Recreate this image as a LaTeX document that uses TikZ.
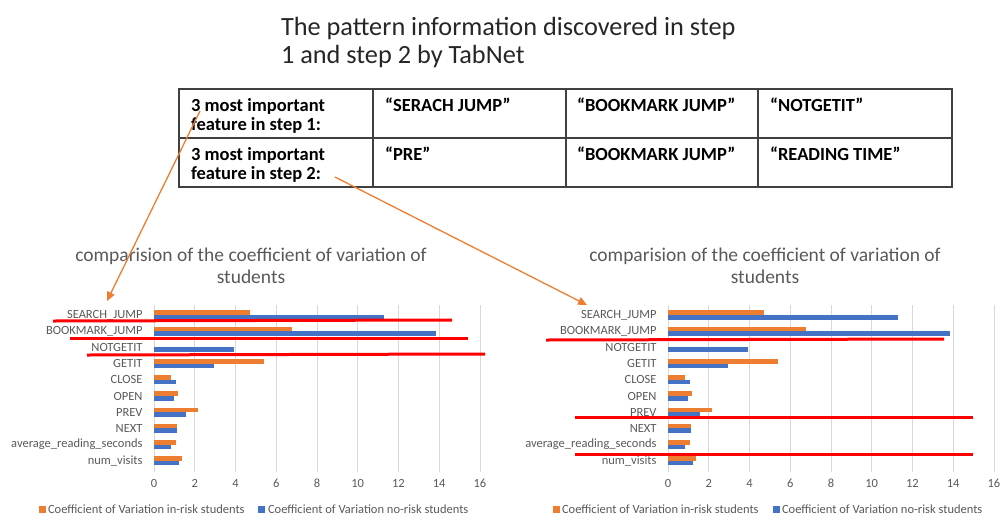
\documentclass[tikz,border=0pt]{standalone}
\usepackage{fontspec}
\setmainfont{Carlito}
\usetikzlibrary{arrows.meta}
\definecolor{cvorange}{HTML}{ED7D31}
\definecolor{cvblue}{HTML}{4472C4}
\definecolor{gridgray}{HTML}{D9D9D9}
\definecolor{txtgray}{HTML}{595959}
\definecolor{tabline}{HTML}{404040}
\definecolor{markred}{HTML}{FF0000}
\newcommand{\cvunit}{20.37}
\newcommand{\cvchart}[3]{%
  \begin{scope}[name prefix=#2-]
    \node[charttitle] (title1) at (#3,261) {comparision of the coefficient of variation of};
    \node[charttitle] (title2) at (#3,283) {students};
    \foreach \tk in {0,2,...,16} {
      \draw[gridline] ({#1+\tk*\cvunit},305) -- ({#1+\tk*\cvunit},472);
      \node[ticklabel] (tick\tk) at ({#1+\tk*\cvunit},483) {\tk};
    }
    \foreach \nm/\ov/\bv [count=\i from 0] in {SEARCH\_JUMP/4.72/11.3, BOOKMARK\_JUMP/6.75/13.85, NOTGETIT/0/3.95, GETIT/5.4/2.95, CLOSE/0.85/1.1, OPEN/1.2/1.0, PREV/2.15/1.55, NEXT/1.15/1.15, average\_reading\_seconds/1.08/0.82, num\_visits/1.38/1.22} {
      \pgfmathsetmacro\cy{315+16.2*\i}
      \node[catlabel] (cat\i) at (#1-11.5,\cy) {\nm};
      \fill[inriskbar] (#1,\cy-4.6) rectangle ({#1+\ov*\cvunit},\cy);
      \fill[noriskbar] (#1,\cy) rectangle ({#1+\bv*\cvunit},\cy+4.6);
    }
  \end{scope}}
\begin{document}
\begin{tikzpicture}[x=1pt,y=-1pt,
  every node/.style={inner sep=0pt, outer sep=0pt},
  titletext/.style={anchor=base west, font=\fontsize{26.3}{30}\selectfont, text=black!85},
  celltext/.style={anchor=base west, font=\bfseries\fontsize{18.5}{19}\selectfont},
  tabrule/.style={draw=tabline, line width=1.6pt},
  charttitle/.style={font=\fontsize{19.5}{22}\selectfont, text=txtgray, anchor=base},
  catlabel/.style={font=\fontsize{12.5}{14}\selectfont, text=txtgray, anchor=east},
  ticklabel/.style={font=\fontsize{12.5}{14}\selectfont, text=txtgray, anchor=center},
  legendtext/.style={font=\fontsize{12.5}{14}\selectfont, text=txtgray, anchor=west},
  gridline/.style={draw=gridgray, line width=0.8pt},
  inriskbar/.style={fill=cvorange},
  noriskbar/.style={fill=cvblue},
  pointer/.style={draw=cvorange, line width=1.3pt, -{Triangle[length=9pt,width=8pt]}},
  redmark/.style={draw=markred, line width=3pt},
]
\useasboundingbox (0,0) rectangle (1000,517);
\clip (0,0) rectangle (1000,517);

% heading
\node[titletext] (head1) at (281,35) {The pattern information discovered in step};
\node[titletext] (head2) at (281,63) {1 and step 2 by TabNet};

% table
\draw[tabrule] (179,89) rectangle (952,187);
\draw[tabrule] (179,138) -- (952,138);
\foreach \cx in {373,566,758} { \draw[tabrule] (\cx,89) -- (\cx,187); }
\node[celltext] (r1c1a) at (191,111) {3 most important};
\node[celltext] (r1c1b) at (191,130) {feature in step 1:};
\node[celltext] (r1c2) at (385,111) {“SERACH JUMP”};
\node[celltext] (r1c3) at (577,111) {“BOOKMARK JUMP”};
\node[celltext] (r1c4) at (770,111) {“NOTGETIT”};
\node[celltext] (r2c1a) at (191,160) {3 most important};
\node[celltext] (r2c1b) at (191,179) {feature in step 2:};
\node[celltext] (r2c2) at (385,160) {“PRE”};
\node[celltext] (r2c3) at (577,160) {“BOOKMARK JUMP”};
\node[celltext] (r2c4) at (770,160) {“READING TIME”};

% charts
\cvchart{154}{L}{251}
\cvchart{668}{R}{765}

% legends
\fill[cvorange] (39,506) rectangle (46,513);
\node[legendtext] (Lleg1) at (48,509.5) {Coefficient of Variation in-risk students};
\fill[cvblue] (258,506) rectangle (265,513);
\node[legendtext] (Lleg2) at (268,509.5) {Coefficient of Variation no-risk students};
\fill[cvorange] (553,506) rectangle (560,513);
\node[legendtext] (Rleg1) at (562,509.5) {Coefficient of Variation in-risk students};
\fill[cvblue] (773,506) rectangle (780,513);
\node[legendtext] (Rleg2) at (782,509.5) {Coefficient of Variation no-risk students};

% red highlight lines
\draw[redmark] (53,321) -- (452,320);
\draw[redmark] (70,338) -- (468,338);
\draw[redmark] (87,355) -- (485,354);
\draw[redmark] (546,340) -- (944,339);
\draw[redmark] (575,417) -- (973,417);
\draw[redmark] (575,454) -- (973,454);

% pointers
\coordinate (p1s) at (200,111);
\coordinate (p1e) at (107,301);
\coordinate (p2s) at (335,177);
\coordinate (p2e) at (587,305);
\draw[pointer] (p1s) -- (p1e);
\draw[pointer] (p2s) -- (p2e);
\end{tikzpicture}
\end{document}
